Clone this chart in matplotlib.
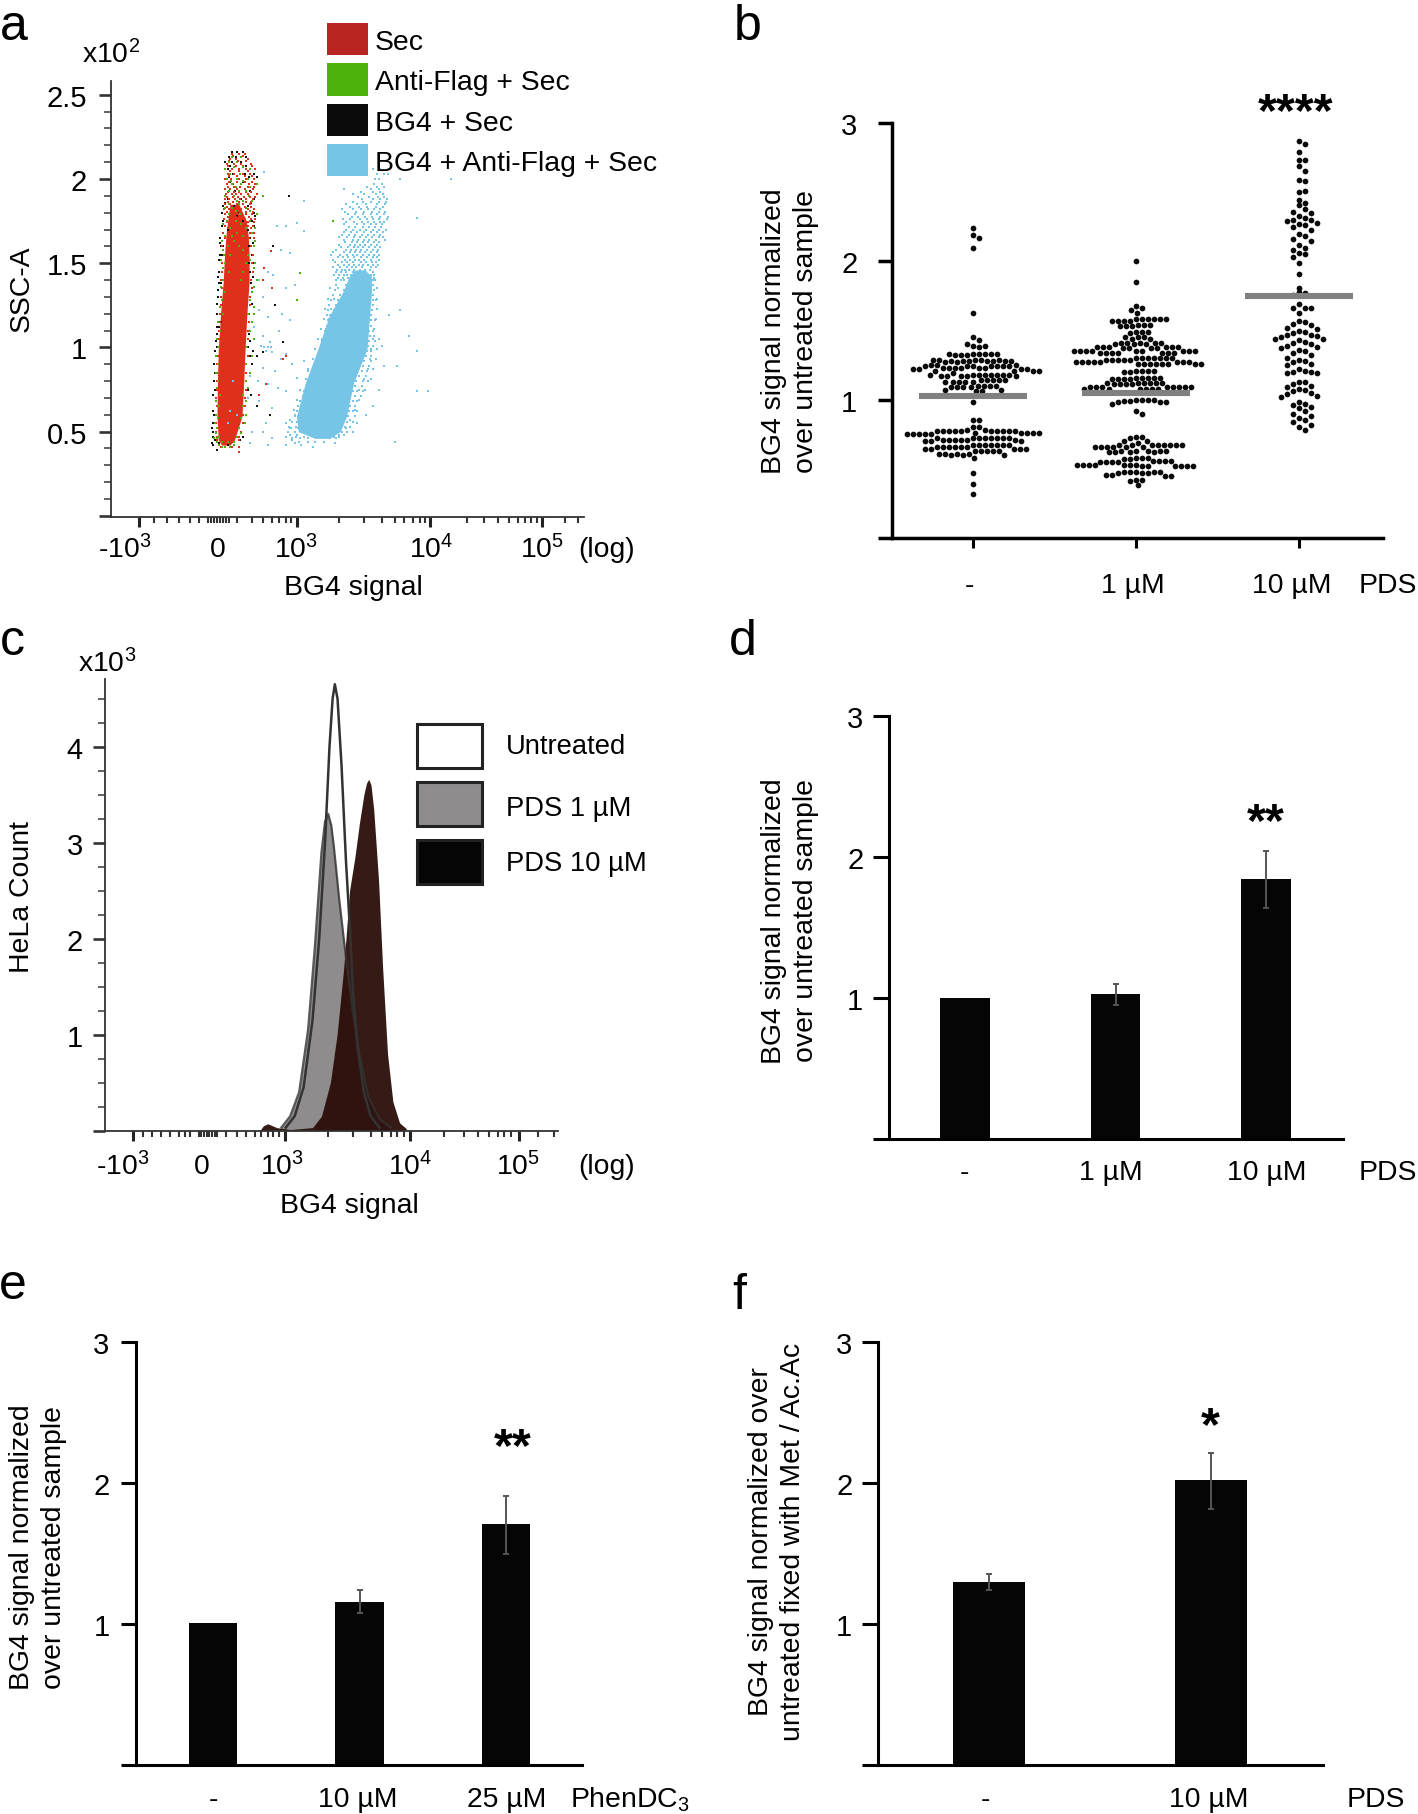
import numpy as np
from matplotlib import pyplot as plt
from matplotlib.patches import Rectangle

plt.rcParams['font.family'] = ['Liberation Sans', 'DejaVu Sans']
plt.rcParams['mathtext.default'] = 'regular'

W, H = 1418, 1815
FS = 20.4

# panel a: x is the cytometer channel, y is SSC-A (x10^2)
RED_CORE_SSC = [.42, .45, .59, .8, .99, 1.2, 1.39, 1.55, 1.66, 1.75, 1.85]
RED_CORE_LEFT = [497, 489, 486, 487, 489, 494, 500, 503, 506, 510, 515]
RED_CORE_RIGHT = [515, 525, 542, 546, 549, 553, 558, 558, 556, 552, 535]

BLUE_CORE_SSC = [.46, .5, .59, .79, .99, 1.19, 1.33, 1.42, 1.46]
BLUE_CORE_LEFT = [705, 668, 664, 684, 712, 738, 768, 782, 795]
BLUE_CORE_RIGHT = [738, 762, 776, 792, 822, 828, 832, 832, 818]

RED_ROWS = [
    (2.15, [520, 535, 548]), (2.12, [515, 528, 555]), (2.09, [508, 524, 540, 562]),
    (2.06, [505, 520, 535, 550, 572]), (2.03, [510, 525, 545, 560]),
    (2.0, [505, 518, 535, 552, 568]), (1.97, [508, 522, 540, 558, 572]),
    (1.94, [503, 515, 530, 548, 566]), (1.91, [506, 520, 528, 540, 556, 575]),
    (1.88, [503, 514, 526, 538, 552, 566]), (1.85, [505, 516, 530, 545, 560]),
    (1.82, [502, 512, 528, 540, 556, 570]), (1.79, [504, 520, 536, 550, 565]),
    (1.76, [502, 516, 530, 548, 562, 572]), (1.72, [505, 555, 566]), (1.68, [500, 560, 570]),
    (1.6, [498, 562]), (1.57, [606]), (1.5, [498, 565]), (1.47, [592]), (1.4, [496, 562, 590]),
    (1.35, [610]), (1.3, [494, 560]), (1.2, [492, 558]), (1.1, [490, 556]), (1.0, [488, 553]),
    (.95, [640]), (.93, [635]), (.9, [486, 552]), (.8, [485, 550]), (.78, [596]), (.72, [580]),
    (.7, [484, 548]), (.6, [484, 545]), (.5, [483, 540]), (.45, [486, 535]),
    (.41, [495, 520, 535]), (.38, [535]),
    (2.135, [522, 545]), (2.105, [514, 532, 550]), (2.075, [510, 528, 545, 565]),
    (2.045, [516, 535, 555]), (2.015, [512, 530, 548, 565]), (1.985, [514, 530, 548, 565]),
    (1.955, [510, 525, 538, 555, 568]), (1.925, [510, 524, 535, 550, 562]),
    (1.895, [508, 522, 534, 546, 560, 572]), (1.865, [510, 522, 536, 550, 563]),
    (1.835, [508, 520, 534, 548, 562]), (1.805, [508, 524, 538, 552, 566]),
    (1.775, [510, 528, 542, 558]), (1.745, [508, 522, 538, 556, 568]), (1.71, [510, 520, 548, 562]),
    (1.65, [503, 558, 568]), (1.55, [502, 566]), (1.45, [498, 566]), (1.35, [498, 564]),
    (1.25, [494, 560]), (1.15, [493, 558]), (1.05, [490, 556]), (.95, [488, 556]), (.85, [487, 552]),
    (.75, [486, 551]), (.65, [485, 548]), (.55, [484, 544]), (.47, [487, 535]),
]
BLACK_ROWS = [
    (2.16, [520, 530, 545]), (2.13, [512, 528, 552]), (2.1, [505, 520, 540]), (2.06, [510, 535, 560]),
    (2.03, [522, 548, 570]), (1.98, [515, 545, 565]), (1.93, [527, 560]), (1.9, [648]),
    (1.88, [510, 540, 570]), (1.84, [500, 525, 555]), (1.8, [498, 535, 568]), (1.75, [500, 545, 565]),
    (1.7, [510, 556]), (1.65, [492, 505, 560, 570]), (1.6, [495, 500, 558, 612]),
    (1.55, [492, 498, 565]), (1.5, [558, 570]), (1.45, [490, 497, 560]), (1.38, [490, 496, 562]),
    (1.3, [488, 495, 560]), (1.25, [615]), (1.2, [487, 493, 556]), (1.15, [490, 495]),
    (1.08, [487, 558]), (1.03, [635]), (1.0, [486, 556]), (.97, [590]), (.95, [485, 560, 575]),
    (.85, [482, 560]), (.75, [482, 556]), (.68, [484]), (.65, [575]), (.6, [480, 550, 605]),
    (.55, [478, 545]), (.5, [478, 540]), (.45, [482, 538]), (.42, [478, 510]), (.39, [485]),
    (1.62, [492, 566]), (1.52, [490, 496]), (1.42, [488, 566]), (1.34, [488]), (1.26, [486, 564]),
    (1.12, [485, 490]), (1.04, [484, 560]), (.98, [482, 566]), (.9, [480, 564]), (.8, [480]),
    (.72, [478, 562]), (.62, [478]), (.52, [475]), (.47, [478, 544]), (.43, [474, 490]),
    (2.08, [515, 550]), (2.01, [512, 558, 575]), (1.86, [505, 562]), (1.78, [530, 572]), (1.72, [498, 568]),
]
GREEN_ROWS = [
    (2.13, [520, 540]), (2.1, [512, 530]), (2.07, [525, 545]), (2.03, [515, 538]),
    (2.0, [508, 530, 555]), (1.97, [520, 540, 575]), (1.93, [512, 535, 550]),
    (1.9, [505, 525, 558, 590]), (1.87, [530, 545, 565]), (1.83, [505, 520, 550]),
    (1.79, [512, 538, 575]), (1.75, [508, 528, 560, 745]), (1.71, [515, 550, 572]),
    (1.66, [505, 520, 545]), (1.6, [510, 535, 568]), (1.55, [502, 515, 555]), (1.5, [505, 550, 572]),
    (1.45, [512, 545]), (1.44, [673]), (1.4, [500, 540, 575]), (1.33, [505, 565]),
    (1.28, [497, 560, 665]), (1.2, [500, 555, 570]), (1.1, [493, 560]), (1.0, [490, 552]),
    (.9, [489, 550]), (.8, [488, 550]), (.72, [492, 545]), (.65, [490, 545]), (.58, [488, 540]),
    (.52, [485, 535]), (.47, [490, 530]), (.44, [487, 497, 510, 525]), (.41, [497, 505, 515]),
    (2.06, [505, 560]), (1.99, [518, 545]), (1.95, [528, 560]), (1.85, [512, 535]), (1.81, [528, 560]),
    (1.73, [500, 540]), (1.68, [530, 565]), (1.63, [498, 525, 572]), (1.58, [500, 545]), (1.52, [495, 560]),
    (1.47, [500, 570]), (1.36, [495, 570]), (1.24, [493, 568]), (1.15, [488, 565]), (1.05, [487, 568]),
    (.95, [484, 565]), (.85, [484, 560]), (.76, [486, 555]), (.68, [483, 552]), (.6, [484, 552]),
    (.55, [482, 548]), (.49, [483, 540]), (.46, [485, 480]), (.42, [490, 525]),
]
BLUE_ROWS = [
    # cloud above the dense population
    (1.40, [752, 763, 771, 836, 840]), (1.43, [748, 760, 770, 778, 786, 832, 838]),
    (1.46, [755, 765, 773, 782, 792, 806, 818, 828]), (1.49, [758, 770, 781, 793, 804, 812, 824, 836, 846]),
    (1.52, [745, 772, 785, 795, 803, 815, 830, 848]), (1.55, [741, 762, 778, 790, 800, 812, 826, 838, 850]),
    (1.58, [752, 775, 786, 798, 808, 822, 835, 846]), (1.61, [760, 783, 795, 806, 818, 830, 845]),
    (1.64, [770, 790, 802, 815, 826, 842, 862]), (1.67, [765, 782, 796, 810, 824, 838, 852]),
    (1.70, [776, 790, 806, 820, 836, 850, 864]), (1.73, [770, 800, 815, 830, 842, 856]),
    (1.76, [768, 785, 806, 822, 836, 848, 866]), (1.79, [780, 795, 814, 830, 845, 860]),
    (1.82, [765, 790, 808, 825, 838, 852]), (1.85, [775, 800, 820, 845, 862]),
    (1.88, [810, 835, 852, 866]), (1.91, [790, 815, 842, 858]), (1.94, [770, 830, 850]),
    (1.97, [838, 856]), (2.00, [840, 848, 895, 1010]), (2.03, [845, 860, 870]), (2.06, [835, 852, 870]),
    (1.415, [758, 768, 780, 790, 838]), (1.445, [752, 764, 776, 790, 800, 815, 835]),
    (1.475, [746, 762, 778, 788, 798, 810, 830, 842]), (1.505, [750, 766, 778, 790, 808, 820, 834, 842]),
    (1.535, [758, 768, 780, 792, 808, 822, 836, 845]), (1.565, [746, 770, 784, 795, 806, 818, 832, 844]),
    (1.595, [764, 780, 792, 802, 814, 826, 840, 852]), (1.625, [772, 788, 800, 812, 824, 838, 850]),
    (1.655, [760, 778, 792, 806, 820, 834, 848, 858]), (1.685, [770, 786, 800, 816, 830, 844, 858]),
    (1.715, [782, 796, 812, 826, 840, 854]), (1.745, [776, 794, 810, 824, 838, 852, 860]),
    (1.775, [788, 802, 818, 834, 852, 868]), (1.805, [772, 798, 816, 834, 848, 862]),
    (1.835, [784, 804, 822, 842, 858]), (1.865, [790, 812, 832, 850, 864]),
    (1.895, [802, 826, 846, 860]), (1.925, [808, 836, 852]), (1.955, [822, 844, 860]),
    # fringe of the dense population
    (.44, [670, 690, 705, 725, 885]), (.46, [655, 672, 690, 740, 752]), (.48, [650, 665, 760, 770]),
    (.50, [645, 660, 765, 778]), (.53, [648, 662, 772, 785]), (.56, [655, 665, 778, 790]),
    (.59, [660, 668, 780, 795]), (.62, [665, 675, 782, 790, 800]), (.65, [668, 678, 785, 795]),
    (.68, [672, 682, 790, 800]), (.71, [678, 690, 795, 808]), (.74, [680, 692, 790, 800, 812, 935, 958]),
    (.77, [685, 696, 795, 810]), (.80, [692, 702, 798, 812, 825]), (.83, [695, 708, 805, 820]),
    (.86, [700, 712, 810, 822]), (.89, [705, 716, 812, 826, 860, 890]), (.92, [708, 720, 815, 830]),
    (.95, [712, 722, 820, 832]), (.98, [715, 726, 822, 830, 935]), (1.01, [718, 728, 825, 835, 855]),
    (1.04, [722, 730, 826, 840]), (1.07, [725, 735, 828, 838, 915]), (1.10, [728, 738, 826, 835]),
    (1.13, [732, 742, 830]), (1.16, [735, 745, 830, 840]), (1.19, [733, 740, 832, 872]),
    (1.22, [735, 748, 834, 895]), (1.25, [738, 752, 836]), (1.28, [742, 758, 836, 842]),
    (1.31, [745, 762, 835]), (1.34, [750, 770, 838]), (1.37, [752, 775, 835]),
    (.47, [662, 680, 748, 760]), (.52, [652, 668, 775]), (.57, [650, 672, 785]), (.63, [658, 672, 795]),
    (.69, [665, 680, 803]), (.75, [672, 688, 805, 818]), (.81, [685, 698, 815, 830]), (.87, [690, 705, 825, 835]),
    (.93, [700, 712, 828, 842]), (.99, [706, 718, 832, 844]), (1.05, [712, 722, 835, 848]), (1.11, [718, 730, 838]),
    (1.17, [725, 738, 842]), (1.23, [728, 742, 845]), (1.29, [735, 748, 845]), (1.35, [740, 758, 845]),
    # stragglers between the two populations
    (2.04, [592]), (1.87, [680]), (1.77, [935]), (1.74, [665]), (1.72, [620, 640]), (1.69, [682]),
    (1.58, [630]), (1.56, [650]), (1.45, [600]), (1.43, [612]), (1.40, [580]), (1.37, [660]),
    (1.35, [640]), (1.30, [590]), (1.25, [615]), (1.22, [580]), (1.20, [632]), (1.18, [600]),
    (1.16, [650]), (1.12, [570]), (1.10, [625]), (1.07, [590]), (1.03, [605]), (1.01, [585]),
    (1.0, [592, 600, 608]), (.98, [596]), (.97, [610]), (.95, [575]), (.96, [640]), (.93, [630]),
    (.92, [680]), (.90, [565, 655]), (.88, [590]), (.86, [615, 690]), (.83, [560]), (.82, [665]),
    (.80, [578]), (.78, [600, 700]), (.76, [622]), (.75, [850]), (.74, [640]), (.70, [555]),
    (.68, [580]), (.65, [835]), (.64, [610]), (.60, [660, 820]), (.55, [595, 640, 800]),
    (.52, [650]), (.50, [565, 590, 790]), (.47, [640]), (.46, [610]), (.45, [655]),
    (.43, [560, 660, 750]), (.42, [600, 640, 675]), (.41, [700]),
]
STRAY_BLUE_IN_RED_X = [522, 515, 530, 510]
STRAY_BLUE_IN_RED_Y = [.8, .62, .6, .55]

A_MAJOR = [312, 665, 964, 1215]
A_MINOR = [345, 375, 400, 425, 445, 465, 472, 479, 486, 493, 500, 507, 512, 530, 565, 590, 610, 625, 640, 652,
           760, 815, 855, 885, 905, 925, 940, 952, 1045, 1085, 1115, 1140, 1160, 1175, 1190, 1203, 1265, 1295]
A_LEGEND = ['Sec', 'Anti-Flag + Sec', 'BG4 + Sec', 'BG4 + Anti-Flag + Sec']
A_COLORS = ['#b8241f', '#4db30c', '#0a0a0a', '#76c5e6']

# panel b: single cell values, one list per condition
B_CONTROL = [2.24, 2.19, 2.17, 2.10, 1.63, 1.45, 1.43, 1.39, 1.40, 1.38, 1.39,
             1.33, 1.33, 1.32, 1.33, 1.32, 1.33, 1.32, 1.33, 1.33,
             1.29, 1.28, 1.29, 1.28, 1.28, 1.27, 1.28, 1.29, 1.28, 1.27, 1.28, 1.29, 1.28, 1.29,
             1.24, 1.23, 1.24, 1.25, 1.23, 1.24, 1.23, 1.25, 1.24, 1.23, 1.24, 1.25, 1.23, 1.24, 1.23, 1.24,
             1.22, 1.21, 1.22, 1.21, 1.22, 1.21, 1.22, 1.21,
             1.18, 1.18, 1.17, 1.18, 1.17, 1.18, 1.19, 1.18, 1.17, 1.18, 1.17, 1.18, 1.18, 1.17,
             1.13, 1.14, 1.13, 1.14, 1.13, 1.14, 1.13, 1.14, 1.13, 1.14,
             1.10, 1.09, 1.10, 1.09, 1.10, 1.09, 1.10, 1.09, 1.06, 1.07, 1.06, 1.07, .98,
             .85, .85, .80, .80, .78, .78, .77, .77, .77, .77, .77, .77, .77, .77, .77, .77,
             .76, .75, .76, .75, .76, .75, .76, .75, .76, .75,
             .72, .72, .71, .72, .71, .72, .71, .72, .71, .72, .71, .72, .72, .71, .70, .70, .70,
             .67, .67, .66, .67, .66, .67, .66, .67, .66, .67, .66, .67, .66,
             .64, .63, .64, .63, .64, .63, .64, .63, .64, .63, .61, .60, .61, .60, .61, .60, .61, .58,
             .47, .39, .32]
B_ONE = [2.00, 1.85, 1.68, 1.66, 1.65, 1.63,
         1.58, 1.58, 1.57, 1.58, 1.57, 1.58, 1.57, 1.58, 1.57, 1.58,
         1.54, 1.53, 1.54, 1.53, 1.54, 1.53, 1.49, 1.49, 1.48, 1.49, 1.45, 1.45, 1.44, 1.45, 1.44,
         1.41, 1.41, 1.40, 1.41, 1.40, 1.41, 1.40, 1.41, 1.38, 1.38, 1.37, 1.38, 1.37, 1.38, 1.37, 1.38, 1.37, 1.38,
         1.35, 1.35, 1.34, 1.35, 1.34, 1.35, 1.34, 1.35, 1.34, 1.35, 1.34, 1.35, 1.34, 1.35, 1.34, 1.35,
         1.30, 1.30, 1.29, 1.30, 1.29, 1.30, 1.29, 1.30, 1.29, 1.30, 1.29, 1.30,
         1.27, 1.26, 1.27, 1.26, 1.27, 1.26, 1.27, 1.26, 1.27, 1.26, 1.27, 1.26, 1.27, 1.26, 1.27, 1.26,
         1.21, 1.21, 1.20, 1.21, 1.20, 1.21, 1.16, 1.16, 1.15, 1.16, 1.15, 1.16, 1.15, 1.16, 1.15,
         1.12, 1.12, 1.11, 1.12, 1.11, 1.12, 1.11, 1.12, 1.11, 1.12,
         1.09, 1.09, 1.08, 1.09, 1.08, 1.09, 1.08, 1.09, 1.08, 1.09, 1.08, 1.09, 1.08, 1.09,
         1.00, 1.00, .99, 1.00, .99, 1.00, .98, .98, .97, .98, .92, .90,
         .73, .73, .72, .70, .70, .69,
         .67, .67, .66, .67, .66, .67, .66, .67, .66, .67, .66, .67, .66, .67,
         .63, .63, .62, .63, .62, .63, .62, .63, .62, .58, .58, .57, .58, .57,
         .555, .55, .555, .55, .555, .55, .555, .55,
         .525, .52, .525, .52, .525, .52, .525, .52, .525, .52, .525, .52, .525,
         .48, .48, .47, .48, .47, .48, .47, .48, .455, .45, .455, .45, .42, .42, .41, .38]
B_TEN = [2.87, 2.85, 2.79, 2.73, 2.73, 2.69, 2.65, 2.59, 2.58, 2.50, 2.51, 2.44, 2.42, 2.41, 2.38, 2.36, 2.35,
         2.33, 2.31, 2.30, 2.30, 2.29, 2.28, 2.27, 2.26, 2.25, 2.23, 2.20, 2.18, 2.16, 2.15, 2.12, 2.10, 2.08,
         2.06, 2.05, 2.03, 1.99, 1.91, 1.81, 1.78, 1.77, 1.76, 1.69, 1.66, 1.66, 1.66, 1.63,
         1.57, 1.56, 1.55, 1.54, 1.52, 1.51, 1.50, 1.49, 1.48, 1.47, 1.47, 1.46, 1.45, 1.44, 1.44, 1.43, 1.42,
         1.41, 1.40, 1.39, 1.38, 1.37, 1.36, 1.35, 1.34, 1.32, 1.30, 1.29, 1.28, 1.27, 1.26, 1.25, 1.22, 1.21,
         1.20, 1.20, 1.19, 1.19, 1.13, 1.13, 1.11, 1.10, 1.09, 1.08, 1.07, 1.06, 1.05, 1.04, 1.03, 1.02, .98,
         .97, .96, .95, .94, .92, .90, .88, .87, .85, .84, .82, .80, .78]
B_MEANS = [1.03, 1.05, 1.75]

# panel c: histograms, x in channels, y in counts (x10^3)
UNTREATED_X = [640, 660, 680, 700, 715, 728, 738, 745, 750, 756, 765, 775, 785, 790, 800, 815, 830, 850]
UNTREATED_Y = [.03, .15, .45, 1.15, 2.0, 3.0, 4.0, 4.5, 4.65, 4.5, 3.8, 2.8, 2.0, 1.5, .9, .4, .15, .03]
PDS1_X = [630, 650, 670, 690, 705, 720, 728, 735, 742, 748, 760, 775, 790, 805, 825, 850, 875]
PDS1_Y = [.03, .15, .4, 1.05, 1.9, 2.9, 3.22, 3.3, 3.18, 2.95, 2.4, 1.8, 1.25, .8, .35, .12, .03]
PDS10_X = [582, 590, 600, 610, 620, 650, 700, 720, 740, 755, 770, 783, 795, 805, 815, 821, 826, 831, 837, 848, 857, 868, 880, 895, 910]
PDS10_Y = [.0, .05, .07, .05, .03, .01, .03, .15, .5, 1.0, 1.7, 2.5, 2.85, 3.2, 3.5, 3.62, 3.66, 3.6, 3.35, 2.6, 1.7, .8, .3, .08, .02]
C_MAJOR = [297, 638, 918, 1163]
C_MINOR = [320, 340, 360, 380, 400, 415, 425, 445, 451, 457, 463, 469, 475, 481, 485, 505, 530, 550, 570, 585, 600, 612, 625,
           735, 790, 830, 855, 875, 890, 905, 995, 1040, 1070, 1095, 1115, 1130, 1145, 1205, 1240]
C_LEGEND = ['Untreated', 'PDS 1 µM', 'PDS 10 µM']

# bar panels
D_VALUES = [1.0, 1.03, 1.84]
D_LOW = [1.0, .95, 1.64]
D_HIGH = [1.0, 1.10, 2.04]
E_VALUES = [1.01, 1.16, 1.71]
E_LOW = [1.01, 1.08, 1.50]
E_HIGH = [1.01, 1.24, 1.91]
F_VALUES = [1.30, 2.02]
F_LOW = [1.245, 1.82]
F_HIGH = [1.353, 2.21]

fig = plt.figure(figsize=(W / 100, H / 100), dpi=100)
ov = fig.add_axes([0, 0, 1, 1], zorder=20)
ov.set_xlim(0, W)
ov.set_ylim(H, 0)
ov.axis('off')


def px_axes(left, top, right, bottom):
    return fig.add_axes([left / W, 1 - bottom / H, (right - left) / W, (bottom - top) / H])


def label(x, y, s, size=FS, **kw):
    kw.setdefault('ha', 'center')
    kw.setdefault('va', 'center')
    ov.text(x, y + 2, s, fontsize=size, color='black', **kw)


def stars(x, y, s):
    ov.text(x, y + 20, s, fontsize=35, fontweight='bold', ha='center', va='baseline', color='black')


def ylabel2(x, y, s):
    ov.text(x, y, s, fontsize=FS, rotation=90, ha='center', va='center', multialignment='center',
            linespacing=1.3, color='black')


def expand(rows):
    xs = []
    ys = []
    for ssc, channels in rows:
        for ch in channels:
            xs.append(ch)
            ys.append(ssc)
    return xs, ys


def swarm(values, d=5.8, py=138.4, step=0.0):
    # place each value at the closest free x offset, in pixels
    placed = []
    out = []
    for v in values:
        y = round(v / step) * step * py if step else v * py
        k = 0
        while True:
            off = (k + 1) // 2 * 1.0 * (1 if k % 2 else -1)
            if all((off - a) ** 2 + (y - b) ** 2 >= d * d for a, b in placed):
                break
            k += 1
        placed.append((off, y))
        out.append(off)
    return np.array(out)


def cyto_axes(ax, major, minor, ymajor, yminor, xlim, ylim, pad):
    ax.set_xlim(*xlim)
    ax.set_ylim(*ylim)
    ax.patch.set_alpha(0)
    ax.spines['top'].set_visible(False)
    ax.spines['right'].set_visible(False)
    for s in ['left', 'bottom']:
        ax.spines[s].set_linewidth(1.3)
        ax.spines[s].set_color('#333333')
    ax.set_xticks(major)
    ax.set_xticklabels([])
    ax.set_xticks(minor, minor=True)
    ax.tick_params(axis='x', which='major', length=7, width=2.2, color='#222222')
    ax.tick_params(axis='x', which='minor', length=4, width=1.5, color='#333333')
    ax.set_yticks(ymajor)
    ax.set_yticks(yminor, minor=True)
    ax.tick_params(axis='y', which='major', length=9, width=1.9, color='#333333', labelsize=FS + .6, pad=pad)
    ax.tick_params(axis='y', which='minor', length=5, width=1.3, color='#555555')


def bar_panel(left, top, right, bottom, xlim, values, low, high, width, ticklen, pad):
    ax = px_axes(left, top, right, bottom)
    x = np.arange(1, len(values) + 1)
    ax.bar(x, values, width=width, color='#050505', zorder=2)
    for xi, v, lo, hi in zip(x, values, low, high):
        if hi > lo:
            ax.errorbar(xi, v, yerr=[[v - lo], [hi - v]], color='#555555', elinewidth=1.4, capsize=2.2,
                        capthick=1.4, zorder=3)
    ax.set_xlim(*xlim)
    ax.set_ylim(0, 3)
    ax.set_xticks([])
    ax.set_yticks([0, 1, 2, 3])
    ax.set_yticklabels(['', '1', '2', '3'])
    ax.spines['top'].set_visible(False)
    ax.spines['right'].set_visible(False)
    ax.spines['left'].set_linewidth(2.2)
    ax.spines['bottom'].set_linewidth(2.2)
    ax.tick_params(axis='y', length=ticklen, width=2.2, labelsize=FS + .6, pad=pad)
    return ax


# panel a
ax = px_axes(110.7, 82, 584, 518)
cyto_axes(ax, A_MAJOR, A_MINOR, [0, .5, 1, 1.5, 2, 2.5], [v / 10 for v in range(1, 26) if v % 5],
          (248, 1308), (-.007, 2.582), 8)
ax.set_yticklabels(['', '0.5', '1', '1.5', '2', '2.5'])
ax.fill_betweenx(BLUE_CORE_SSC, BLUE_CORE_LEFT, BLUE_CORE_RIGHT, color=A_COLORS[3], lw=0)
bx, by = expand(BLUE_ROWS)
ax.scatter(bx, by, s=3.6, marker='s', color=A_COLORS[3], linewidths=0)
ax.fill_betweenx(RED_CORE_SSC, RED_CORE_LEFT, RED_CORE_RIGHT, color='#e0301c', lw=0)
ax.scatter(STRAY_BLUE_IN_RED_X, STRAY_BLUE_IN_RED_Y, s=3.6, marker='s', color=A_COLORS[3], linewidths=0)
kx, ky = expand(BLACK_ROWS)
ax.scatter(kx, ky, s=3.6, marker='s', color='#111111', linewidths=0)
rx, ry = expand(RED_ROWS)
ax.scatter(rx, ry, s=4.2, marker='s', color='#e0301c', linewidths=0)
gx, gy = expand(GREEN_ROWS)
ax.scatter(gx, gy, s=3.6, marker='s', color=A_COLORS[1], linewidths=0)

for (y0, y1), name, col in zip([(24, 56), (64, 96.5), (104.5, 136.5), (144.5, 176.5)], A_LEGEND, A_COLORS):
    ov.add_patch(Rectangle((327, y0), 41, y1 - y0, facecolor=col, edgecolor='none'))
    label(375, (y0 + y1) / 2 + 1, name, ha='left')
label(82.5, 53, 'x$10^{2}$', ha='left')
label(22, 287, 'SSC-A', rotation=90)
for x, s in zip([125, 218, 296, 431, 542, 607],
                ['-$10^{3}$', '0', '$10^{3}$', '$10^{4}$', '$10^{5}$', '(log)']):
    label(x, 548, s)
label(353, 586, 'BG4 signal')

# panel b
ax = px_axes(892, 124, 1383, 539)
ax.set_xlim(1 - 81 / 163, 3 + 84 / 163)
ax.set_ylim(0, 3)
for pos, vals, mean, step in zip([1, 2, 3], [B_CONTROL, B_ONE, B_TEN], B_MEANS, [0.0, 0.0, 0.07]):
    ax.scatter(pos + swarm(vals, step=step) / 163, vals, s=17, color='#0a0a0a', linewidths=0, zorder=2)
    ax.hlines(mean, pos - .333, pos + .333, color='#808080', lw=4.4, zorder=3)
ax.set_xticks([1, 2, 3])
ax.set_xticklabels([])
ax.set_yticks([0, 1, 2, 3])
ax.set_yticklabels(['', '1', '2', '3'])
ax.spines['top'].set_visible(False)
ax.spines['right'].set_visible(False)
ax.spines['left'].set_linewidth(2.5)
ax.spines['bottom'].set_linewidth(2.5)
ax.tick_params(axis='y', length=10, width=2.5, labelsize=FS + .6, pad=15)
ax.tick_params(axis='x', length=7, width=2.2)
ylabel2(790, 331, 'BG4 signal normalized\nover untreated sample')
for x, s in zip([969.5, 1133, 1291.5, 1388], ['-', '1 µM', '10 µM', 'PDS']):
    label(x, 583.5, s)
stars(1296, 106, '****')

# panel c
ax = px_axes(105, 679.5, 558, 1131.5)
cyto_axes(ax, C_MAJOR, C_MINOR, [0, 1, 2, 3, 4], [v / 4 for v in range(1, 19) if v % 4],
          (235, 1250), (0, 4.71), 7)
ax.set_yticklabels(['', '1', '2', '3', '4'])
ax.fill_between(UNTREATED_X, 0, UNTREATED_Y, color='white', lw=0)
ax.fill_between(PDS1_X, 0, PDS1_Y, color='#8f8c8d', lw=0)
ax.fill_between(PDS10_X, 0, PDS10_Y, color='#2b0d08', alpha=.95, lw=0)
ax.plot(UNTREATED_X, UNTREATED_Y, color='#333333', lw=1.8)
ax.plot(PDS1_X, PDS1_Y, color='#333333', lw=1.6, alpha=.8)
for (y0, y1), name, col in zip([(725, 768.5), (783, 827), (841, 884.5)], C_LEGEND, ['white', '#8f8c8d', '#050505']):
    ov.add_patch(Rectangle((417, y0), 65, y1 - y0, facecolor=col, edgecolor='#222222', lw=2.2))
for y, name in zip([745, 807, 862], C_LEGEND):
    label(506, y, name, size=19.7, ha='left')
label(78, 662, 'x$10^{3}$', ha='left')
label(22, 895, 'HeLa Count', rotation=90)
for x, s in zip([123, 202, 282.5, 410, 518, 607],
                ['-$10^{3}$', '0', '$10^{3}$', '$10^{4}$', '$10^{5}$', '(log)']):
    label(x, 1165, s)
label(349.5, 1204, 'BG4 signal')

# panel d
bar_panel(889, 717, 1343, 1139.6, (1 - 76 / 150.5, 3 + 77 / 150.5), D_VALUES, D_LOW, D_HIGH, .329, 11.5, 7)
ylabel2(790, 921, 'BG4 signal normalized\nover untreated sample')
for x, s in zip([964, 1110.5, 1267, 1388], ['-', '1 µM', '10 µM', 'PDS']):
    label(x, 1171, s)
stars(1266, 815.6, '**')

# panel e
bar_panel(136, 1343, 582, 1766.4, (1 - 77 / 146.5, 3 + 76 / 146.5), E_VALUES, E_LOW, E_HIGH, .328, 11, 8)
ylabel2(38, 1547.6, 'BG4 signal normalized\nover untreated sample')
for x, s in zip([213, 358, 507, 629.5], ['-', '10 µM', '25 µM', 'PhenDC$_{3}$']):
    label(x, 1798, s)
stars(513, 1441, '**')

# panel f
bar_panel(878, 1343, 1323, 1766.4, (.5, 2 + 112 / 222), F_VALUES, F_LOW, F_HIGH, .324, 11.5, 7)
ylabel2(777, 1542, 'BG4 signal normalized over\nuntreated fixed with Met / Ac.Ac')
for x, s in zip([985, 1209, 1376], ['-', '10 µM', 'PDS']):
    label(x, 1798, s)
stars(1210, 1420, '*')

# panel letters
for x, y, s in zip([14, 748, 12, 743, 13, 739], [40, 40, 655, 655, 1299, 1309], 'abcdef'):
    ov.text(x, y, s, fontsize=36, ha='center', va='baseline', color='black')

plt.savefig('out.png', dpi=100)
